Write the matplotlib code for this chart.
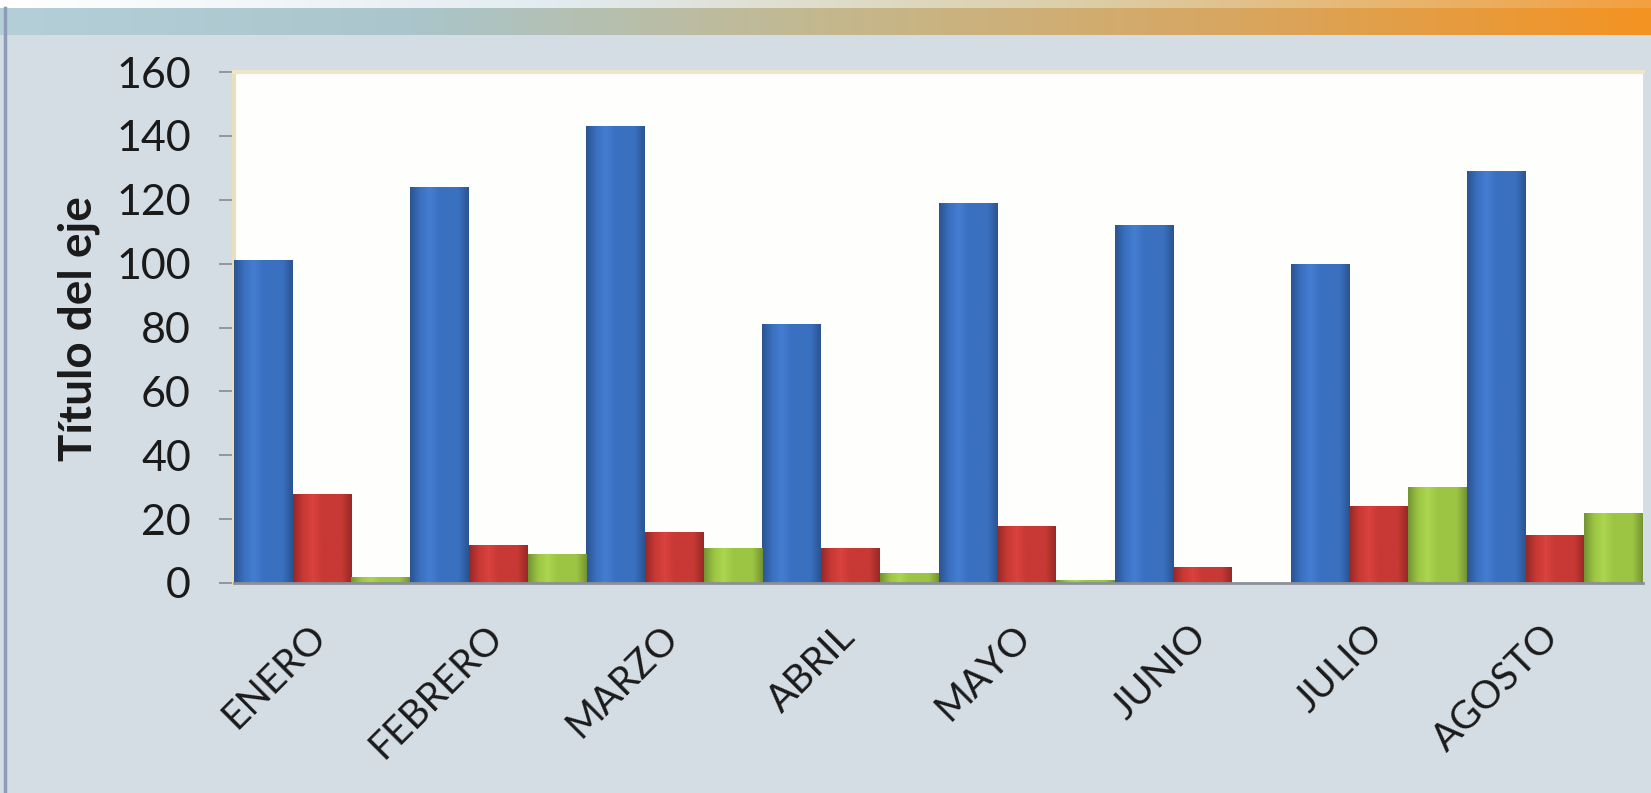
import numpy as np
import matplotlib
matplotlib.use("Agg")
import matplotlib.pyplot as plt
import matplotlib.transforms as mtransforms
from matplotlib.colors import LinearSegmentedColormap, to_rgb

categories = ["ENERO", "FEBRERO", "MARZO", "ABRIL", "MAYO", "JUNIO", "JULIO", "AGOSTO"]
serie1 = [101, 124, 143, 81, 119, 112, 100, 129]
serie2 = [28, 12, 16, 11, 18, 5, 24, 15]
serie3 = [2, 9, 11, 3, 1, 0, 30, 22]
yticks = [0, 20, 40, 60, 80, 100, 120, 140, 160]
ylabel = "Título del eje"

plt.rcParams['font.family'] = ['Lato', 'DejaVu Sans']

W, H = 1651, 793
fig = plt.figure(figsize=(W / 100, H / 100), dpi=100)
fig.patch.set_facecolor("#d4dce4")

# top banner
bax = fig.add_axes([0, 1 - 35 / H, 1, 35 / H])
bax.set_axis_off()
grad = np.linspace(0, 1, 400)
cm_band = LinearSegmentedColormap.from_list("band", ["#b5cfd9", "#aac5cb", "#c4b88e", "#d8a660", "#f39322"])
cm_top = LinearSegmentedColormap.from_list("top", ["#ffffff", "#e2ecf0", "#dccda5", "#f3a040"])
img = np.vstack([cm_band(grad)[None, :, :]] * 27 + [cm_top(grad)[None, :, :]] * 8)
bax.imshow(img[::-1], aspect="auto", extent=[0, 1, 0, 1], origin="upper")
bax.set_xlim(0, 1); bax.set_ylim(0, 1)

# left border line
fig.add_artist(plt.Line2D([5 / W, 5 / W], [0, 1 - 8 / H], transform=fig.transFigure,
                          color="#8e9cb8", lw=2.5))

ax = fig.add_axes([234 / W, 1 - 583 / H, (1643 - 234) / W, (583 - 72) / H])
ax.set_facecolor("#fefefc")
x = np.arange(len(categories))
w = 1 / 3
colors = ["#3a70c0", "#c83834", "#9cc544"]
series = [serie1, serie2, serie3]
for k, (vals, col) in enumerate(zip(series, colors)):
    bars = ax.bar(x + (k - 1) * w, vals, width=w, color=col, edgecolor="none", zorder=2)
    base = np.array(to_rgb(col))
    dark = base * 0.75
    light = np.clip(base * 1.05 + 0.03, 0, 1)
    cm = LinearSegmentedColormap.from_list("g%d" % k, [dark, base, light, base, base, base, dark])
    gimg = cm(np.linspace(0, 1, 64))[None, :, :]
    for b in bars:
        if b.get_height() <= 0:
            continue
        x0, y0 = b.get_x(), b.get_y()
        im = ax.imshow(gimg, aspect="auto", extent=[x0, x0 + b.get_width(), y0, y0 + b.get_height()],
                       zorder=3, interpolation="bilinear")
        im.set_clip_path(b)

ax.set_xlim(-0.5, len(categories) - 0.5)
ax.set_ylim(0, 160)
ax.set_yticks(yticks)
ax.set_yticklabels([str(t) for t in yticks], fontsize=31, color="#1a1a1a")
ax.set_xticks(x)
ax.set_xticklabels(categories, fontsize=28, rotation=45, ha="right", rotation_mode="anchor", color="#1a1a1a")
ax.tick_params(axis="x", length=0, pad=34)
ax.tick_params(axis="y", length=11, width=1.2, color="#8a8a8a", pad=20, direction="out")
offset = mtransforms.ScaledTranslation(-14 / 100, 12 / 100, fig.dpi_scale_trans)
for lbl in ax.get_xticklabels():
    lbl.set_transform(lbl.get_transform() + offset)
ax.spines["right"].set_visible(False)
ax.spines["top"].set_color("#eee6c8")
ax.spines["top"].set_linewidth(3)
ax.spines["left"].set_color("#e8dfbf")
ax.spines["left"].set_linewidth(3)
ax.spines["bottom"].set_color("#8a9098")
ax.spines["bottom"].set_linewidth(2)
ax.spines["bottom"].set_zorder(5)

fig.text(79 / W, 1 - 329 / H, ylabel, rotation=90, ha="center", va="center",
         fontsize=33, fontweight="bold", color="#1a1a1a")

fig.savefig("out.png", dpi=100, facecolor=fig.get_facecolor())
